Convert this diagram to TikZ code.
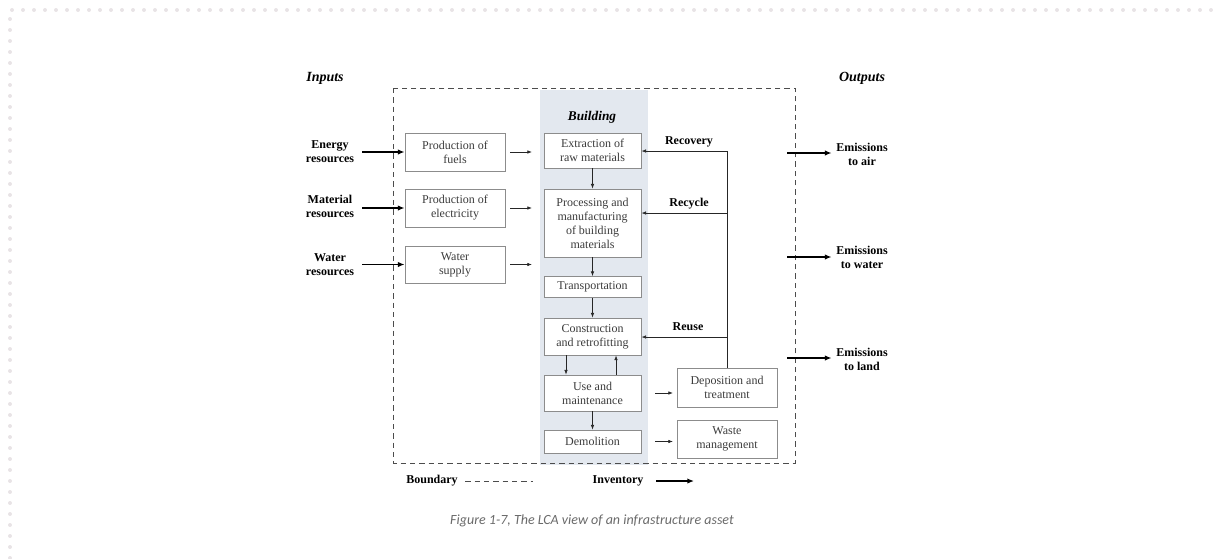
\documentclass[tikz,border=0pt]{standalone}
\usepackage{fontspec}
\setmainfont{Liberation Serif}[
  BoldFont={Liberation Serif Bold},
  ItalicFont={Liberation Serif Italic},
  BoldItalicFont={Liberation Serif Bold Italic}]
\newfontfamily\capfont{Carlito}
\usetikzlibrary{arrows.meta}

\definecolor{bldg}{HTML}{E3E8EF}
\definecolor{boxline}{HTML}{8C8C8C}
\definecolor{boxtext}{HTML}{3C3C3C}
\definecolor{pageframe}{HTML}{E8E3E6}
\definecolor{captext}{HTML}{6A6A6A}

\begin{document}
\begin{tikzpicture}[x=0.75pt,y=-0.75pt,
  procbox/.style={draw=boxline, line width=0.6pt, fill=white, align=center,
    text=boxtext, font=\fontsize{9}{10.5}\selectfont, inner sep=0pt},
  inbox/.style={procbox, minimum width=75pt},
  bbox/.style={procbox, minimum width=72.75pt},
  blabel/.style={align=center, font=\fontsize{9}{10.5}\selectfont\bfseries},
  headlabel/.style={font=\fontsize{10.5}{12}\selectfont\bfseries\itshape},
  flow/.style={-{Latex[length=3.5pt,width=2.6pt]}, line width=0.5pt, draw=black!85},
  fline/.style={line width=0.5pt, draw=black!85},
  inventory/.style={-{Latex[length=5pt,width=4pt]}, line width=1.3pt},
  boundary/.style={dash pattern=on 4pt off 3pt, line width=0.5pt, draw=black!70},
]
\useasboundingbox (0,0) rectangle (1217,558);

% page frame
\draw[pageframe, line width=3pt, line cap=round, dash pattern=on 0pt off 8.25pt]
  (10,558) -- (10,10) -- (1217,10);

% building column
\fill[bldg] (540,90) rectangle (648,465);

% system boundary
\draw[boundary] (393,88) rectangle (795,463);

% headings
\node[headlabel] (inputs) at (325,78) {Inputs};
\node[headlabel] (outputs) at (862,78) {Outputs};
\node[headlabel, font=\fontsize{10}{12}\selectfont\bfseries\itshape] (building) at (592,117) {Building};

% inputs
\node[blabel] (energy) at (330,152) {Energy\\resources};
\node[blabel] (material) at (330,206) {Material\\resources};
\node[blabel] (water) at (330,265) {Water\\resources};

\node[inbox, minimum height=28.5pt] (fuels) at (455,152) {Production of\\fuels};
\node[inbox, minimum height=28.5pt] (elec) at (455,208) {Production of\\electricity};
\node[inbox, minimum height=27.75pt] (wsup) at (455,264.5) {Water\\supply};

% building stages
\node[bbox, minimum height=26.25pt] (extr) at (592.5,150.5) {Extraction of\\raw materials};
\node[bbox, minimum height=51pt] (proc) at (592.5,223) {Processing and\\manufacturing\\of building\\materials};
\node[bbox, minimum height=15.75pt] (trans) at (592.5,287) {Transportation};
\node[bbox, minimum height=27.75pt] (constr) at (592.5,336.5) {Construction\\and retrofitting};
\node[bbox, minimum height=27pt] (use) at (592.5,393) {Use and\\maintenance};
\node[bbox, minimum height=17.25pt] (demol) at (592.5,441.5) {Demolition};

% end of life
\node[inbox, minimum height=29.25pt] (depo) at (727,387.5) {Deposition and\\treatment};
\node[inbox, minimum height=28.5pt] (waste) at (727,439) {Waste\\management};

% outputs
\node[blabel] (eair) at (862,154) {Emissions\\to air};
\node[blabel] (ewater) at (862,257) {Emissions\\to water};
\node[blabel] (eland) at (862,359) {Emissions\\to land};

% inventory flows in
\coordinate (inE) at (362,152);
\coordinate (inM) at (362,208);
\coordinate (inW) at (362,264.5);
\draw[inventory] (inE) -- (fuels.west);
\draw[inventory] (inM) -- (elec.west);
\draw[inventory] (inW) -- (wsup.west);

% supply to building
\coordinate (sfuel) at (532,152);
\coordinate (selec) at (532,208);
\coordinate (swat) at (532,264.5);
\draw[flow] (fuels.east) ++(5,0) -- (sfuel);
\draw[flow] (elec.east) ++(5,0) -- (selec);
\draw[flow] (wsup.east) ++(5,0) -- (swat);

% stage sequence
\draw[flow] (extr) -- (proc);
\draw[flow] (proc) -- (trans);
\draw[flow] (trans) -- (constr);
\draw[flow] ([xshift=-26.5*0.75pt]constr.south) -- ([xshift=-26.5*0.75pt]use.north);
\draw[flow] ([xshift=23.5*0.75pt]use.north) -- ([xshift=23.5*0.75pt]constr.south);
\draw[flow] (use) -- (demol);

% to end of life
\coordinate (toDepo) at (673,393);
\coordinate (toWaste) at (673,441.5);
\draw[flow] (use.east) ++(14,0) -- (toDepo);
\draw[flow] (demol.east) ++(14,0) -- (toWaste);

% feedback loops
\coordinate (loopTop) at (727,151);
\coordinate (loopRec) at (727,213);
\coordinate (loopReu) at (727,337);
\draw[fline] (depo.north) -- (loopTop);
\draw[flow] (loopTop) -- (extr.east |- loopTop);
\draw[flow] (loopRec) -- (proc.east |- loopRec);
\draw[flow] (loopReu) -- (constr.east |- loopReu);
\node[blabel] (recovery) at (689,142) {Recovery};
\node[blabel] (recycle) at (689,204) {Recycle};
\node[blabel] (reuse) at (688,327) {Reuse};

% emissions out
\coordinate (outA) at (787,153);
\coordinate (outW) at (787,257);
\coordinate (outL) at (787,358);
\draw[inventory] (outA) -- (eair.west |- outA);
\draw[inventory] (outW) -- (ewater.west |- outW);
\draw[inventory] (outL) -- (eland.west |- outL);

% legend
\node[blabel] (lbound) at (432,481) {Boundary};
\node[blabel] (linv) at (618,481) {Inventory};
\draw[boundary] (lbound.east) ++(3,0) -- ++(68,0);
\draw[inventory] (linv.east) ++(8,0) -- ++(38,0);

% caption
\node[font=\capfont\itshape\fontsize{10.5}{12}\selectfont, text=captext] (caption) at (592,521)
  {Figure 1-7, The LCA view of an infrastructure asset};
\end{tikzpicture}
\end{document}
